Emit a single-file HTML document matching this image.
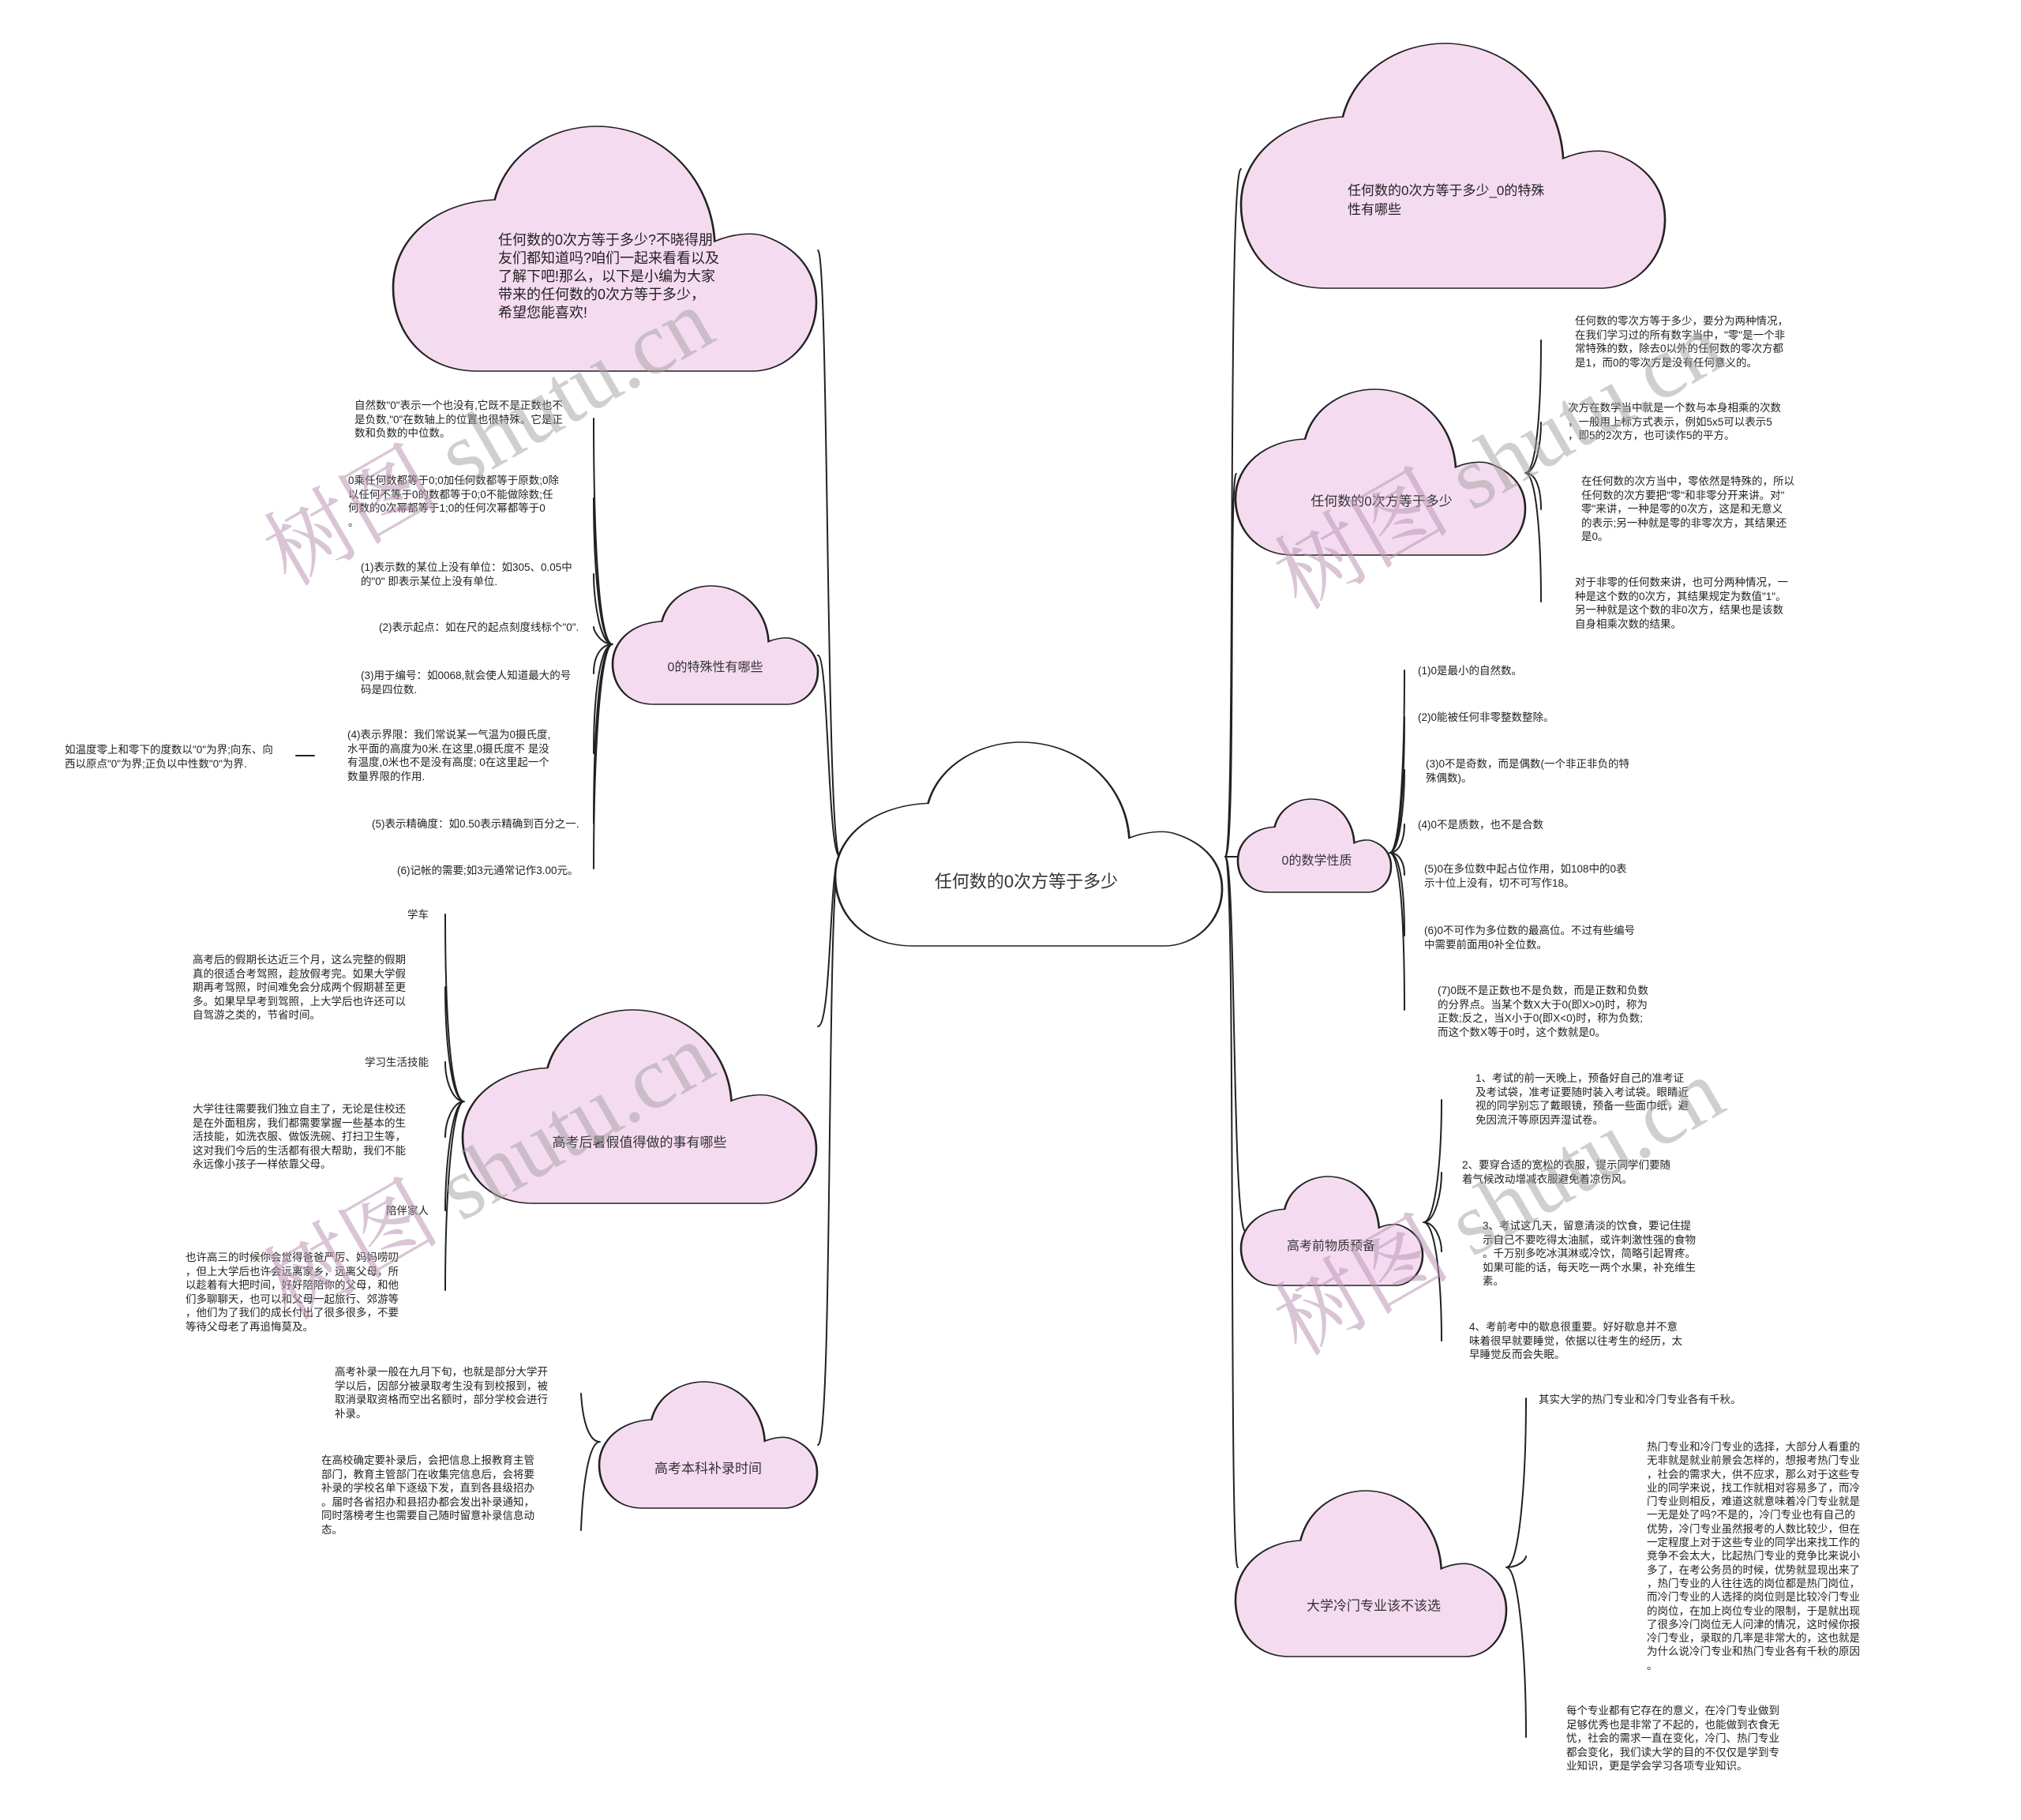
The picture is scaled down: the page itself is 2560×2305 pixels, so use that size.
<!DOCTYPE html>
<html><head><meta charset="utf-8"><style>
html,body{margin:0;padding:0;background:#fff;}
#w{position:relative;width:2560px;height:2305px;overflow:hidden;font-family:"Liberation Sans","Noto Sans CJK SC",sans-serif;color:#222;}
svg{position:absolute;left:0;top:0;}
.t{position:absolute;font-size:13.5px;line-height:17.5px;white-space:nowrap;}
.r{text-align:right;}
.c{position:absolute;white-space:nowrap;transform:translate(-50%,-50%);font-size:17px;color:#333;}
.wm{position:absolute;font-family:"Liberation Serif","Noto Serif CJK SC",serif;font-size:112px;color:rgba(160,160,160,0.5);white-space:nowrap;transform-origin:center;}
.wm span{color:rgba(185,150,180,0.55);}
</style></head><body><div id="w">
<svg width="2560" height="2305" viewBox="0 0 2560 2305">
<defs>
<path id="cl" d="M0.2,1 C0.06,1 0,0.82 0,0.66 C0,0.46 0.1,0.31 0.24,0.3 C0.27,0.1 0.38,0 0.48,0 C0.63,0 0.75,0.2 0.76,0.47 C0.8,0.44 0.85,0.43 0.88,0.45 C0.96,0.5 1,0.6 1,0.72 C1,0.88 0.93,1 0.85,1 Z"/>
</defs>
<g stroke="#222" stroke-width="2" fill="none" stroke-linecap="round">
<path d="M1064,1085 C1046,1085 1050,317 1036,317"/>
<path d="M1064,1085 C1048,1085 1050,830 1036,830"/>
<path d="M1064,1085 C1050,1085 1054,1300 1036,1300"/>
<path d="M1064,1085 C1046,1085 1056,1830 1036,1830"/>
<path d="M1552,1085 C1566,1085 1554,214 1572,214"/>
<path d="M1552,1085 C1566,1085 1556,600 1566,600"/>
<path d="M1552,1085 C1566,1085 1556,1085 1568,1085"/>
<path d="M1552,1085 C1566,1085 1560,1560 1578,1560"/>
<path d="M1552,1085 C1566,1085 1556,1985 1568,1985"/>
<path d="M776,816 C760,816 752,700 752,530 M776,816 C760,816 752,720 752,631 M776,816 C760,816 752,760 752,727 M776,816 C762,816 752,800 752,794 M776,816 C762,816 752,830 752,853 M776,816 C760,816 752,880 752,954 M776,816 C760,816 752,920 752,1043 M776,816 C760,816 752,960 752,1100"/>
<path d="M375,957 L398,957"/>
<path d="M588,1395 C572,1395 564,1300 564,1158 M588,1395 C572,1395 564,1320 564,1250 M588,1395 C574,1395 564,1370 564,1345 M588,1395 C574,1395 564,1420 564,1440 M588,1395 C572,1395 564,1480 564,1533 M588,1395 C572,1395 564,1520 564,1634"/>
<path d="M760,1826 C746,1826 738,1800 736,1765 M760,1826 C746,1826 738,1880 736,1938"/>
<path d="M1932,599 C1946,599 1952,520 1952,431 M1932,599 C1946,599 1952,560 1952,535 M1932,599 C1946,599 1952,620 1952,645 M1932,599 C1946,599 1952,680 1952,762"/>
<path d="M1760,1080 C1774,1080 1779,960 1779,849 M1760,1080 C1774,1080 1779,980 1779,908 M1760,1080 C1774,1080 1779,1010 1779,975 M1760,1080 C1774,1080 1779,1060 1779,1044 M1760,1080 C1774,1080 1779,1095 1779,1108 M1760,1080 C1774,1080 1779,1130 1779,1185 M1760,1080 C1774,1080 1779,1170 1779,1279"/>
<path d="M1803,1548 C1818,1548 1826,1470 1826,1393 M1803,1548 C1818,1548 1826,1510 1826,1485 M1803,1548 C1818,1548 1826,1570 1826,1585 M1803,1548 C1818,1548 1826,1620 1826,1698"/>
<path d="M1908,1985 C1924,1985 1933,1880 1933,1771 M1908,1985 C1924,1985 1933,1975 1933,1971 M1908,1985 C1924,1985 1933,2100 1933,2200"/>
</g>
<g fill="#f5dbf0" stroke="#222">
<use href="#cl" transform="translate(498,160) scale(536,310)" stroke-width="0.0049"/>
<use href="#cl" transform="translate(1572,55) scale(537,310)" stroke-width="0.0049"/>
<use href="#cl" transform="translate(776,742) scale(260,150)" stroke-width="0.0101"/>
<use href="#cl" transform="translate(586,1279) scale(448,245)" stroke-width="0.006"/>
<use href="#cl" transform="translate(759,1750) scale(276,160)" stroke-width="0.0095"/>
<use href="#cl" transform="translate(1565,493) scale(367,210)" stroke-width="0.0072"/>
<use href="#cl" transform="translate(1568,1012) scale(194,118)" stroke-width="0.0132"/>
<use href="#cl" transform="translate(1572,1490) scale(230,138)" stroke-width="0.0112"/>
<use href="#cl" transform="translate(1565,1888) scale(343,210)" stroke-width="0.0075"/>
<use href="#cl" transform="translate(1058,940) scale(490,258)" stroke-width="0.0056" fill="#fff"/>
</g>
</svg>

<div class="c" style="left:1300px;top:1115px;font-size:22px;">任何数的0次方等于多少</div>
<div class="t" style="left:631px;top:293px;font-size:18px;line-height:23px;">任何数的0次方等于多少?不晓得朋<br>友们都知道吗?咱们一起来看看以及<br>了解下吧!那么，以下是小编为大家<br>带来的任何数的0次方等于多少，<br>希望您能喜欢!</div>
<div class="t" style="left:1707px;top:230px;font-size:17px;line-height:24px;">任何数的0次方等于多少_0的特殊<br>性有哪些</div>
<div class="c" style="left:906px;top:843px;font-size:16px;">0的特殊性有哪些</div>
<div class="c" style="left:810px;top:1445px;">高考后暑假值得做的事有哪些</div>
<div class="c" style="left:897px;top:1858px;">高考本科补录时间</div>
<div class="c" style="left:1750px;top:633px;">任何数的0次方等于多少</div>
<div class="c" style="left:1668px;top:1088px;font-size:16px;">0的数学性质</div>
<div class="c" style="left:1686px;top:1576px;font-size:16px;">高考前物质预备</div>
<div class="c" style="left:1740px;top:2032px;">大学冷门专业该不该选</div>

<div class="t" style="left:449px;top:505px;">自然数"0"表示一个也没有,它既不是正数也不<br>是负数,"0"在数轴上的位置也很特殊。它是正<br>数和负数的中位数。</div>
<div class="t" style="left:441px;top:600px;">0乘任何数都等于0;0加任何数都等于原数;0除<br>以任何不等于0的数都等于0;0不能做除数;任<br>何数的0次幂都等于1;0的任何次幂都等于0<br>。</div>
<div class="t" style="left:457px;top:710px;">(1)表示数的某位上没有单位：如305、0.05中<br>的"0" 即表示某位上没有单位.</div>
<div class="t" style="left:480px;top:786px;">(2)表示起点：如在尺的起点刻度线标个"0".</div>
<div class="t" style="left:457px;top:847px;">(3)用于编号：如0068,就会使人知道最大的号<br>码是四位数.</div>
<div class="t" style="left:440px;top:922px;">(4)表示界限：我们常说某一气温为0摄氏度,<br>水平面的高度为0米.在这里,0摄氏度不 是没<br>有温度,0米也不是没有高度; 0在这里起一个<br>数量界限的作用.</div>
<div class="t" style="left:82px;top:941px;">如温度零上和零下的度数以"0"为界;向东、向<br>西以原点"0"为界;正负以中性数"0"为界.</div>
<div class="t" style="left:471px;top:1035px;">(5)表示精确度：如0.50表示精确到百分之一.</div>
<div class="t" style="left:503px;top:1094px;">(6)记帐的需要;如3元通常记作3.00元。</div>

<div class="t r" style="right:2017px;top:1150px;">学车</div>
<div class="t" style="left:244px;top:1207px;">高考后的假期长达近三个月，这么完整的假期<br>真的很适合考驾照，趁放假考完。如果大学假<br>期再考驾照，时间难免会分成两个假期甚至更<br>多。如果早早考到驾照，上大学后也许还可以<br>自驾游之类的，节省时间。</div>
<div class="t r" style="right:2017px;top:1337px;">学习生活技能</div>
<div class="t" style="left:244px;top:1396px;">大学往往需要我们独立自主了，无论是住校还<br>是在外面租房，我们都需要掌握一些基本的生<br>活技能，如洗衣服、做饭洗碗、打扫卫生等，<br>这对我们今后的生活都有很大帮助，我们不能<br>永远像小孩子一样依靠父母。</div>
<div class="t r" style="right:2017px;top:1525px;">陪伴家人</div>
<div class="t" style="left:235px;top:1584px;">也许高三的时候你会觉得爸爸严厉、妈妈唠叨<br>，但上大学后也许会远离家乡，远离父母，所<br>以趁着有大把时间，好好陪陪你的父母，和他<br>们多聊聊天，也可以和父母一起旅行、郊游等<br>，他们为了我们的成长付出了很多很多，不要<br>等待父母老了再追悔莫及。</div>
<div class="t" style="left:424px;top:1729px;">高考补录一般在九月下旬，也就是部分大学开<br>学以后，因部分被录取考生没有到校报到，被<br>取消录取资格而空出名额时，部分学校会进行<br>补录。</div>
<div class="t" style="left:407px;top:1841px;">在高校确定要补录后，会把信息上报教育主管<br>部门，教育主管部门在收集完信息后，会将要<br>补录的学校名单下逐级下发，直到各县级招办<br>。届时各省招办和县招办都会发出补录通知，<br>同时落榜考生也需要自己随时留意补录信息动<br>态。</div>

<div class="t" style="left:1995px;top:398px;">任何数的零次方等于多少，要分为两种情况，<br>在我们学习过的所有数字当中，"零"是一个非<br>常特殊的数，除去0以外的任何数的零次方都<br>是1，而0的零次方是没有任何意义的。</div>
<div class="t" style="left:1986px;top:508px;">次方在数学当中就是一个数与本身相乘的次数<br>，一般用上标方式表示，例如5x5可以表示5<br>，即5的2次方，也可读作5的平方。</div>
<div class="t" style="left:2003px;top:601px;">在任何数的次方当中，零依然是特殊的，所以<br>任何数的次方要把"零"和非零分开来讲。对"<br>零"来讲，一种是零的0次方，这是和无意义<br>的表示;另一种就是零的非零次方，其结果还<br>是0。</div>
<div class="t" style="left:1995px;top:729px;">对于非零的任何数来讲，也可分两种情况，一<br>种是这个数的0次方，其结果规定为数值"1"。<br>另一种就是这个数的非0次方，结果也是该数<br>自身相乘次数的结果。</div>

<div class="t" style="left:1796px;top:841px;">(1)0是最小的自然数。</div>
<div class="t" style="left:1796px;top:900px;">(2)0能被任何非零整数整除。</div>
<div class="t" style="left:1806px;top:959px;">(3)0不是奇数，而是偶数(一个非正非负的特<br>殊偶数)。</div>
<div class="t" style="left:1796px;top:1036px;">(4)0不是质数，也不是合数</div>
<div class="t" style="left:1804px;top:1092px;">(5)0在多位数中起占位作用，如108中的0表<br>示十位上没有，切不可写作18。</div>
<div class="t" style="left:1804px;top:1170px;">(6)0不可作为多位数的最高位。不过有些编号<br>中需要前面用0补全位数。</div>
<div class="t" style="left:1821px;top:1246px;">(7)0既不是正数也不是负数，而是正数和负数<br>的分界点。当某个数X大于0(即X&gt;0)时，称为<br>正数;反之，当X小于0(即X&lt;0)时，称为负数;<br>而这个数X等于0时，这个数就是0。</div>

<div class="t" style="left:1869px;top:1357px;">1、考试的前一天晚上，预备好自己的准考证<br>及考试袋，准考证要随时装入考试袋。眼睛近<br>视的同学别忘了戴眼镜，预备一些面巾纸，避<br>免因流汗等原因弄湿试卷。</div>
<div class="t" style="left:1852px;top:1467px;">2、要穿合适的宽松的衣服，提示同学们要随<br>着气候改动增减衣服避免着凉伤风。</div>
<div class="t" style="left:1878px;top:1544px;">3、考试这几天，留意清淡的饮食，要记住提<br>示自己不要吃得太油腻，或许刺激性强的食物<br>。千万别多吃冰淇淋或冷饮，简略引起胃疼。<br>如果可能的话，每天吃一两个水果，补充维生<br>素。</div>
<div class="t" style="left:1861px;top:1672px;">4、考前考中的歇息很重要。好好歇息并不意<br>味着很早就要睡觉，依据以往考生的经历，太<br>早睡觉反而会失眠。</div>

<div class="t" style="left:1949px;top:1764px;">其实大学的热门专业和冷门专业各有千秋。</div>
<div class="t" style="left:2086px;top:1824px;line-height:17.3px;">热门专业和冷门专业的选择，大部分人看重的<br>无非就是就业前景会怎样的，想报考热门专业<br>，社会的需求大，供不应求，那么对于这些专<br>业的同学来说，找工作就相对容易多了，而冷<br>门专业则相反，难道这就意味着冷门专业就是<br>一无是处了吗?不是的，冷门专业也有自己的<br>优势，冷门专业虽然报考的人数比较少，但在<br>一定程度上对于这些专业的同学出来找工作的<br>竞争不会太大，比起热门专业的竞争比来说小<br>多了，在考公务员的时候，优势就显现出来了<br>，热门专业的人往往选的岗位都是热门岗位，<br>而冷门专业的人选择的岗位则是比较冷门专业<br>的岗位，在加上岗位专业的限制，于是就出现<br>了很多冷门岗位无人问津的情况，这时候你报<br>冷门专业，录取的几率是非常大的，这也就是<br>为什么说冷门专业和热门专业各有千秋的原因<br>。</div>
<div class="t" style="left:1984px;top:2158px;">每个专业都有它存在的意义，在冷门专业做到<br>足够优秀也是非常了不起的，也能做到衣食无<br>忧，社会的需求一直在变化，冷门、热门专业<br>都会变化，我们读大学的目的不仅仅是学到专<br>业知识，更是学会学习各项专业知识。</div>

<div class="wm" style="left:300px;top:465px;transform:rotate(-30deg);"><span>树图</span> shutu.cn</div>
<div class="wm" style="left:300px;top:1395px;transform:rotate(-30deg);"><span>树图</span> shutu.cn</div>
<div class="wm" style="left:1580px;top:495px;transform:rotate(-30deg);"><span>树图</span> shutu.cn</div>
<div class="wm" style="left:1580px;top:1440px;transform:rotate(-30deg);"><span>树图</span> shutu.cn</div>
</div></body></html>
